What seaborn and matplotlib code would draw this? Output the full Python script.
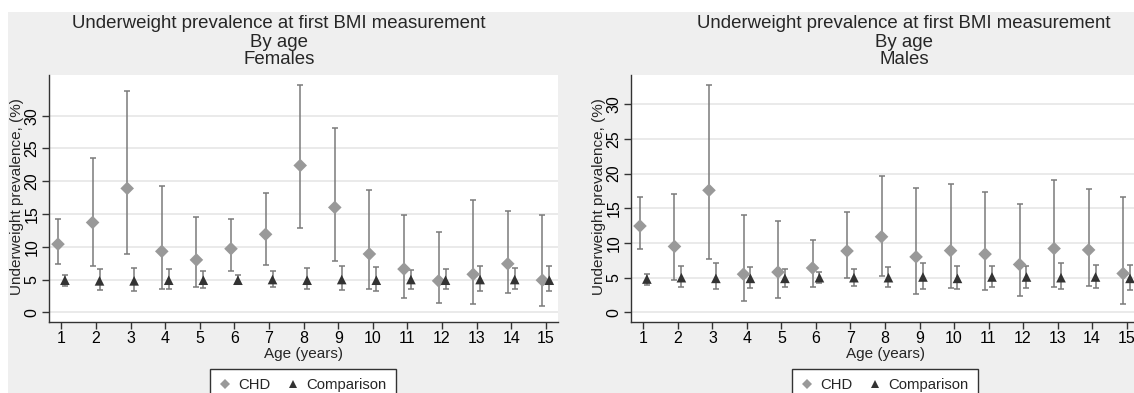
import numpy as np
import pandas as pd
import matplotlib
matplotlib.use("Agg")
import matplotlib.pyplot as plt
from matplotlib.lines import Line2D
from matplotlib.patches import Rectangle
import seaborn as sns

ages = list(range(1, 15 + 1))

# Females
fem_chd = [10.4, 13.7, 18.9, 9.3, 8.0, 9.7, 11.9, 22.4, 16.0, 8.9, 6.6, 4.8, 5.8, 7.4, 4.9]
fem_chd_lo = [7.4, 7.0, 8.9, 3.6, 3.9, 6.3, 7.2, 12.8, 7.8, 3.5, 2.2, 1.4, 1.2, 2.9, 1.0]
fem_chd_hi = [14.3, 23.5, 33.8, 19.2, 14.6, 14.3, 18.2, 34.7, 28.1, 18.6, 14.9, 12.2, 17.2, 15.5, 14.8]
fem_cmp = [4.9, 4.8, 4.8, 4.9, 4.9, 4.9, 5.0, 4.9, 5.0, 4.9, 5.0, 4.9, 5.0, 5.0, 4.9]
fem_cmp_lo = [4.0, 3.4, 3.2, 3.5, 3.7, 4.3, 3.8, 3.5, 3.4, 3.3, 3.6, 3.5, 3.2, 3.6, 3.2]
fem_cmp_hi = [5.7, 6.6, 6.8, 6.6, 6.3, 5.7, 6.3, 6.8, 7.0, 6.9, 6.5, 6.6, 7.1, 6.7, 7.1]

# Males
mal_chd = [12.45, 9.5, 17.6, 5.5, 5.8, 6.4, 8.85, 10.9, 8.0, 8.9, 8.4, 6.9, 9.2, 9.0, 5.6]
mal_chd_lo = [9.1, 4.6, 7.7, 1.6, 2.0, 3.6, 4.9, 5.3, 2.7, 3.5, 3.2, 2.4, 3.6, 3.8, 1.2]
mal_chd_hi = [16.6, 17.1, 32.8, 14.1, 13.2, 10.4, 14.5, 19.6, 17.9, 18.5, 17.3, 15.6, 19.1, 17.8, 16.6]
mal_cmp = [4.8, 5.0, 4.9, 4.9, 4.9, 5.0, 5.0, 5.0, 5.1, 4.9, 5.1, 5.1, 5.0, 5.1, 4.9]
mal_cmp_lo = [4.0, 3.6, 3.3, 3.5, 3.6, 4.2, 3.8, 3.6, 3.4, 3.3, 3.6, 3.5, 3.3, 3.5, 3.2]
mal_cmp_hi = [5.6, 6.7, 7.1, 6.5, 6.2, 5.8, 6.2, 6.6, 7.1, 6.7, 6.7, 6.7, 7.1, 6.8, 6.8]

yticks = [0, 5, 10, 15, 20, 25, 30]

BG = '#efefef'
CHD_COL = '#999999'
CMP_COL = '#333333'
BAR_COL = '#7a7a7a'
FONT = ['Liberation Sans', 'DejaVu Sans']

sns.set_style("white")
plt.rcParams['font.family'] = FONT

W, H = 1134, 393
fig = plt.figure(figsize=(W / 100, H / 100), dpi=100)
fig.patch.set_facecolor('white')
fig.add_artist(Rectangle((8 / W, 0), 1, 1 - 12 / H, transform=fig.transFigure,
                         facecolor=BG, edgecolor='none', zorder=-10))


def px_axes(x0, y0, x1, y1):
    # pixel box (top-left origin) -> figure fraction
    return fig.add_axes([x0 / W, 1 - y1 / H, (x1 - x0) / W, (y1 - y0) / H])


def draw_panel(ax, chd, chd_lo, chd_hi, cmp_, cmp_lo, cmp_hi, ylim):
    df = pd.DataFrame({
        'age': ages * 2,
        'prev': chd + cmp_,
        'lo': chd_lo + cmp_lo,
        'hi': chd_hi + cmp_hi,
        'group': ['CHD'] * len(ages) + ['Comparison'] * len(ages),
    })
    df['xpos'] = df['age'] + np.where(df['group'] == 'CHD', -0.1, 0.1)

    for g in ['CHD', 'Comparison']:
        d = df[df['group'] == g]
        ax.errorbar(d['xpos'], d['prev'], yerr=[d['prev'] - d['lo'], d['hi'] - d['prev']],
                    fmt='none', ecolor=BAR_COL, elinewidth=1.1, capsize=2.4,
                    capthick=1.1, zorder=2)

    sns.scatterplot(data=df, x='xpos', y='prev', hue='group', style='group',
                    markers={'CHD': 'D', 'Comparison': '^'},
                    palette={'CHD': CHD_COL, 'Comparison': CMP_COL},
                    s=48, linewidth=0, legend=False, ax=ax, zorder=3)

    ax.set_facecolor('white')
    ax.set_xlim(0.64, 15.36)
    ax.set_ylim(*ylim)
    ax.set_xticks(ages)
    ax.set_yticks(yticks)
    ax.grid(axis='y', color='#e6e6e6', linewidth=1.2, zorder=0)
    ax.set_axisbelow(True)
    for s in ['top', 'right']:
        ax.spines[s].set_visible(False)
    for s in ['left', 'bottom']:
        ax.spines[s].set_color('#333333')
        ax.spines[s].set_linewidth(1.0)
    ax.tick_params(axis='both', direction='out', length=5, width=1.0, color='#333333',
                   labelsize=11.5, labelcolor='black', left=True, bottom=True)
    ax.tick_params(axis='x', pad=1.5)
    ax.tick_params(axis='y', labelrotation=90, pad=2)
    for lab in ax.get_yticklabels():
        lab.set_va('center')
    ax.set_xlabel('')
    ax.set_ylabel('')


ax1 = px_axes(49, 75, 558.3, 321.7)
draw_panel(ax1, fem_chd, fem_chd_lo, fem_chd_hi, fem_cmp, fem_cmp_lo, fem_cmp_hi, (-1.43, 36.2))
ax2 = px_axes(631, 75, 1139, 321.7)
draw_panel(ax2, mal_chd, mal_chd_lo, mal_chd_hi, mal_cmp, mal_cmp_lo, mal_cmp_hi, (-1.35, 34.23))

titles = [(279, 'Females'), (904, 'Males')]
for cx, sub in titles:
    for base, txt in zip([28, 47, 64], ['Underweight prevalence at first BMI measurement', 'By age', sub]):
        fig.text(cx / W, 1 - base / H, txt, ha='center', va='baseline', fontsize=13.4)

for cx, axc in [(17, 303), (599, 885)]:
    fig.text(cx / W, 1 - 197 / H, 'Underweight prevalence, (%)', rotation=90,
             ha='center', va='center', fontsize=11)
    fig.text(axc / W, 1 - 354 / H, 'Age (years)', ha='center', va='center', fontsize=11)

handles = [
    Line2D([], [], marker='D', linestyle='none', color=CHD_COL, markersize=5, markeredgewidth=0),
    Line2D([], [], marker='^', linestyle='none', color=CMP_COL, markersize=6, markeredgewidth=0),
]
for axc in [303, 885]:
    leg = fig.legend(handles, ['CHD', 'Comparison'], loc='upper center',
                     bbox_to_anchor=(axc / W, 1 - 369 / H), bbox_transform=fig.transFigure,
                     ncol=2, fontsize=10.7, frameon=True, fancybox=False,
                     handlelength=0.8, handletextpad=0.5, columnspacing=1.1,
                     borderpad=0.6, borderaxespad=0)
    leg.get_frame().set_edgecolor('#333333')
    leg.get_frame().set_linewidth(1.0)
    leg.get_frame().set_facecolor('white')
    leg.get_frame().set_alpha(1)

fig.savefig('out.png', dpi=100, facecolor=fig.get_facecolor())
